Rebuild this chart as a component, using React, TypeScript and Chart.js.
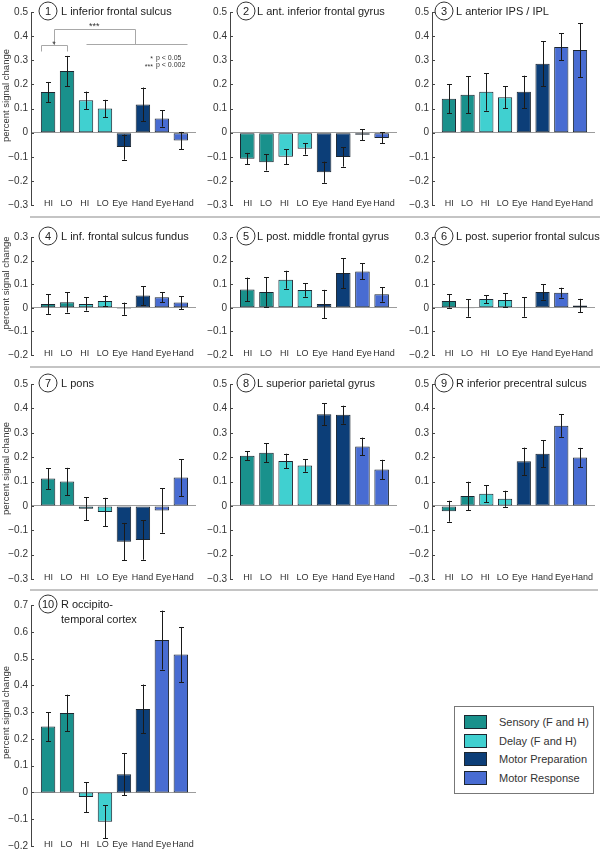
import React, { useEffect, useRef } from 'react';
import { Chart, registerables } from 'chart.js';

Chart.register(...registerables);

const FONT = '"Liberation Sans", Arial, Helvetica, sans-serif';

// ---------- data ----------
const categories = ['HI', 'LO', 'HI', 'LO', 'Eye', 'Hand', 'Eye', 'Hand'];
// label anchors along the bar axis (bar index units; labels are spread to fit their widths)
const categoryLabelX = [0.02, 0.97, 1.94, 2.88, 3.79, 4.98, 6.08, 7.12];
const barGroup = [0, 0, 1, 1, 2, 2, 3, 3];
const legendLabels = ['Sensory (F and H)', 'Delay (F and H)', 'Motor Preparation', 'Motor Response'];
const groupColors = ['#19918c', '#40d0d0', '#0c3e78', '#486cd2'];

const panelTitles: string[][] = [
  ['L inferior frontal sulcus'],
  ['L ant. inferior frontal gyrus'],
  ['L anterior IPS / IPL'],
  ['L inf. frontal sulcus fundus'],
  ['L post. middle frontal gyrus'],
  ['L post. superior frontal sulcus'],
  ['L pons'],
  ['L superior parietal gyrus'],
  ['R inferior precentral sulcus'],
  ['R occipito-', 'temporal cortex'],
];

const p1Values = [0.168, 0.255, 0.134, 0.1, -0.06, 0.117, 0.059, -0.033];
const p1Errors = [0.042, 0.063, 0.036, 0.036, 0.052, 0.07, 0.034, 0.036];
const p2Values = [-0.108, -0.123, -0.1, -0.067, -0.164, -0.101, -0.009, -0.022];
const p2Errors = [0.024, 0.034, 0.032, 0.024, 0.044, 0.04, 0.023, 0.023];
const p3Values = [0.14, 0.157, 0.169, 0.147, 0.169, 0.286, 0.355, 0.342];
const p3Errors = [0.06, 0.076, 0.078, 0.046, 0.067, 0.093, 0.056, 0.112];
const p4Values = [0.016, 0.023, 0.016, 0.029, -0.004, 0.052, 0.045, 0.022];
const p4Errors = [0.042, 0.043, 0.028, 0.023, 0.026, 0.04, 0.022, 0.028];
const p5Values = [0.078, 0.067, 0.119, 0.075, 0.016, 0.147, 0.154, 0.057];
const p5Errors = [0.05, 0.062, 0.038, 0.028, 0.06, 0.064, 0.034, 0.031];
const p6Values = [0.029, -0.001, 0.037, 0.033, 0.003, 0.067, 0.064, 0.01];
const p6Errors = [0.028, 0.037, 0.017, 0.028, 0.041, 0.032, 0.021, 0.028];
const p7Values = [0.112, 0.1, -0.012, -0.025, -0.147, -0.14, -0.019, 0.116];
const p7Errors = [0.043, 0.056, 0.047, 0.058, 0.077, 0.081, 0.091, 0.076];
const p8Values = [0.206, 0.218, 0.184, 0.166, 0.376, 0.374, 0.244, 0.149];
const p8Errors = [0.019, 0.038, 0.03, 0.026, 0.045, 0.037, 0.036, 0.04];
const p9Values = [-0.022, 0.041, 0.05, 0.029, 0.183, 0.214, 0.329, 0.198];
const p9Errors = [0.043, 0.058, 0.035, 0.033, 0.056, 0.055, 0.046, 0.04];
const p10Values = [0.246, 0.297, -0.017, -0.109, 0.068, 0.312, 0.569, 0.515];
const p10Errors = [0.054, 0.068, 0.056, 0.062, 0.078, 0.091, 0.11, 0.103];

const panelValues = [p1Values, p2Values, p3Values, p4Values, p5Values, p6Values, p7Values, p8Values, p9Values, p10Values];
const panelErrors = [p1Errors, p2Errors, p3Errors, p4Errors, p5Errors, p6Errors, p7Errors, p8Errors, p9Errors, p10Errors];

// y-axis tick ranges per row (step 0.1)
const rowYMin = [-0.3, -0.2, -0.3, -0.2];
const rowYMax = [0.5, 0.3, 0.5, 0.7];
const yStep = 0.1;
const yAxisTitle = 'percent signal change';

// significance annotation for panel 1 (data units: x = bar index, y = signal)
const sigLines: number[][][] = [
  [[-0.38, 0.338], [-0.38, 0.362], [1.0, 0.362], [1.0, 0.338]],
  [[0.33, 0.362], [0.33, 0.429], [4.58, 0.429], [4.58, 0.368]],
  [[2.0, 0.368], [7.31, 0.368]],
];
const sigStars = [
  { text: '*', x: 0.31, y: 0.355 },
  { text: '***', x: 2.44, y: 0.428 },
];
const sigKeyStars = ['*', '***'];
const sigKeyTexts = ['p < 0.05', 'p < 0.002'];
const sigKeyY = [0.31, 0.28];

// ---------- layout (pixels) ----------
const colAxisX = [31, 230, 432];
const colRightX = [196, 397, 595];
const rowTopPx = [12, 237, 384, 605];
const rowBottomPx = [207, 357, 581, 848];
const circleDx = [17, 16, 12];
const textDx = [13, 11, 12];
const X_MIN = -0.9;
const X_MAX = 7.8;
const AXIS_W = 31;
const PAD_TOP = 12;
const PAD_BOTTOM = 7;
const PAD_RIGHT = 5;

function fmtTick(v: number) {
  const n = Math.round(v * 10) / 10;
  if (Math.abs(n) < 1e-9) return '0';
  return (n < 0 ? '\u22120' : '0') + '.' + Math.round(Math.abs(n) * 10).toString();
}

function makeDecor(idx: number, col: number) {
  return {
    id: 'panelDecor' + idx,
    afterDatasetsDraw(chart: any) {
      const ctx = chart.ctx;
      const xs = chart.scales.x;
      const ys = chart.scales.y;
      const vals = panelValues[idx];
      const errs = panelErrors[idx];
      ctx.save();
      ctx.strokeStyle = '#1a1a1a';
      ctx.lineWidth = 1;
      vals.forEach((v, i) => {
        const px = Math.round(xs.getPixelForValue(i)) + 0.5;
        const y1 = ys.getPixelForValue(v + errs[i]);
        const y2 = ys.getPixelForValue(v - errs[i]);
        ctx.beginPath();
        ctx.moveTo(px, y1);
        ctx.lineTo(px, y2);
        ctx.moveTo(px - 2.5, Math.round(y1) + 0.5);
        ctx.lineTo(px + 2.5, Math.round(y1) + 0.5);
        ctx.moveTo(px - 2.5, Math.round(y2) + 0.5);
        ctx.lineTo(px + 2.5, Math.round(y2) + 0.5);
        ctx.stroke();
      });
      ctx.restore();
    },
    afterDraw(chart: any) {
      const ctx = chart.ctx;
      const xs = chart.scales.x;
      const ys = chart.scales.y;
      const { left, top, bottom } = chart.chartArea;
      ctx.save();
      // inward tick marks
      ctx.strokeStyle = '#444';
      ctx.lineWidth = 1;
      ys.ticks.forEach((t: any) => {
        const py = Math.round(ys.getPixelForValue(t.value)) + 0.5;
        ctx.beginPath();
        ctx.moveTo(left, py);
        ctx.lineTo(left + 3, py);
        ctx.stroke();
      });
      // category labels
      ctx.fillStyle = '#333';
      ctx.font = '9px ' + FONT;
      ctx.textAlign = 'center';
      ctx.textBaseline = 'middle';
      categories.forEach((c, i) => {
        ctx.fillText(c, xs.getPixelForValue(categoryLabelX[i]), bottom - 1);
      });
      // title with circled number
      const cx = left + circleDx[col];
      const cy = top - 1;
      ctx.beginPath();
      ctx.arc(cx, cy, 9, 0, Math.PI * 2);
      ctx.strokeStyle = '#333';
      ctx.lineWidth = 1;
      ctx.stroke();
      ctx.fillStyle = '#222';
      ctx.font = '11px ' + FONT;
      ctx.textAlign = 'center';
      ctx.textBaseline = 'middle';
      ctx.fillText(String(idx + 1), cx, cy + 0.5);
      ctx.textAlign = 'left';
      panelTitles[idx].forEach((line, k) => {
        ctx.fillText(line, cx + textDx[col], cy + 0.5 + k * 15);
      });
      // significance annotations (panel 1)
      if (idx === 0) {
        ctx.strokeStyle = '#a8a8a8';
        ctx.lineWidth = 1;
        sigLines.forEach((pl) => {
          ctx.beginPath();
          pl.forEach((p, k) => {
            const px = Math.round(xs.getPixelForValue(p[0])) + 0.5;
            const py = Math.round(ys.getPixelForValue(p[1])) + 0.5;
            if (k === 0) ctx.moveTo(px, py);
            else ctx.lineTo(px, py);
          });
          ctx.stroke();
        });
        ctx.fillStyle = '#333';
        ctx.font = '9px ' + FONT;
        ctx.textAlign = 'center';
        ctx.textBaseline = 'alphabetic';
        sigStars.forEach((s) => {
          ctx.fillText(s.text, xs.getPixelForValue(s.x), ys.getPixelForValue(s.y));
        });
        ctx.font = '7px ' + FONT;
        ctx.textBaseline = 'middle';
        sigKeyStars.forEach((s, k) => {
          ctx.textAlign = 'right';
          ctx.fillText(s, xs.getPixelForValue(5.53), ys.getPixelForValue(sigKeyY[k]) + 1.5);
          ctx.textAlign = 'left';
          ctx.fillText(sigKeyTexts[k], xs.getPixelForValue(5.69), ys.getPixelForValue(sigKeyY[k]));
        });
      }
      // y axis title (first column)
      if (col === 0) {
        ctx.translate(6, (top + bottom) / 2 - 13);
        ctx.rotate(-Math.PI / 2);
        ctx.fillStyle = '#333';
        ctx.font = '9.5px ' + FONT;
        ctx.textAlign = 'center';
        ctx.textBaseline = 'middle';
        ctx.fillText(yAxisTitle, 0, 0);
      }
      ctx.restore();
    },
  };
}

function Panel({ idx }: { idx: number }) {
  const ref = useRef<HTMLCanvasElement | null>(null);
  const row = Math.floor(idx / 3);
  const col = idx % 3;
  const left = colAxisX[col] - AXIS_W;
  const top = rowTopPx[row] - PAD_TOP;
  const width = colRightX[col] - left + PAD_RIGHT;
  const height = rowBottomPx[row] - top + PAD_BOTTOM;

  useEffect(() => {
    if (!ref.current) return;
    const vals = panelValues[idx];
    const chart = new Chart(ref.current, {
      type: 'bar',
      data: {
        datasets: [
          {
            data: vals.map((v, i) => ({ x: i, y: v })),
            backgroundColor: vals.map((_, i) => groupColors[barGroup[i]]),
            borderColor: '#1c2630',
            borderWidth: 1,
            borderSkipped: false,
            barPercentage: 0.76,
            categoryPercentage: 1,
          } as any,
        ],
      },
      options: {
        animation: false,
        responsive: false,
        maintainAspectRatio: false,
        events: [],
        layout: { padding: { top: PAD_TOP, bottom: PAD_BOTTOM, right: PAD_RIGHT, left: 0 } },
        plugins: { legend: { display: false }, tooltip: { enabled: false }, title: { display: false } },
        scales: {
          x: {
            type: 'linear',
            display: false,
            min: X_MIN,
            max: X_MAX,
            offset: false,
          },
          y: {
            type: 'linear',
            min: rowYMin[row],
            max: rowYMax[row],
            afterFit: (scale: any) => {
              scale.width = AXIS_W;
            },
            ticks: {
              stepSize: yStep,
              padding: 3,
              color: '#333',
              font: { family: FONT, size: 10 },
              callback: (v: any) => fmtTick(Number(v)),
            },
            grid: {
              drawTicks: false,
              lineWidth: 1,
              color: (c: any) => (c.tick && Math.abs(c.tick.value) < 1e-9 ? '#9c9c9c' : 'rgba(0,0,0,0)'),
            },
            border: { display: true, color: '#444', width: 1 },
          },
        },
      } as any,
      plugins: [makeDecor(idx, col)],
    });
    return () => chart.destroy();
  }, [idx]);

  return (
    <canvas
      ref={ref}
      width={width}
      height={height}
      style={{ position: 'absolute', left, top, width, height }}
    />
  );
}

const separators = [
  { y: 216, x1: 30, x2: 600 },
  { y: 366, x1: 30, x2: 600 },
  { y: 589, x1: 30, x2: 598 },
];

export default function App() {
  const panelIdx = panelValues.map((_, i) => i);
  return (
    <div
      style={{
        position: 'absolute',
        left: 0,
        top: 0,
        width: 600,
        height: 853,
        background: '#fff',
        overflow: 'hidden',
        fontFamily: FONT,
      }}
    >
      {separators.map((s, i) => (
        <div
          key={'sep' + i}
          style={{ position: 'absolute', left: s.x1, top: s.y, width: s.x2 - s.x1, height: 2, background: '#c4c4c4' }}
        />
      ))}
      {panelIdx.map((i) => (
        <Panel key={i} idx={i} />
      ))}
      <div
        style={{
          position: 'absolute',
          left: 454,
          top: 706,
          width: 140,
          height: 88,
          boxSizing: 'border-box',
          border: '1px solid #777',
        }}
      >
        {legendLabels.map((lab, k) => (
          <div key={lab} style={{ position: 'absolute', left: 9, top: 8 + k * 18.6, height: 15, width: 130 }}>
            <div
              style={{
                position: 'absolute',
                left: 0,
                top: 0,
                width: 23,
                height: 14,
                boxSizing: 'border-box',
                background: groupColors[k],
                border: '1px solid #1c2630',
              }}
            />
            <div
              style={{
                position: 'absolute',
                left: 35,
                top: 0,
                fontSize: 11,
                lineHeight: '14px',
                color: '#333',
                whiteSpace: 'nowrap',
              }}
            >
              {lab}
            </div>
          </div>
        ))}
      </div>
    </div>
  );
}
